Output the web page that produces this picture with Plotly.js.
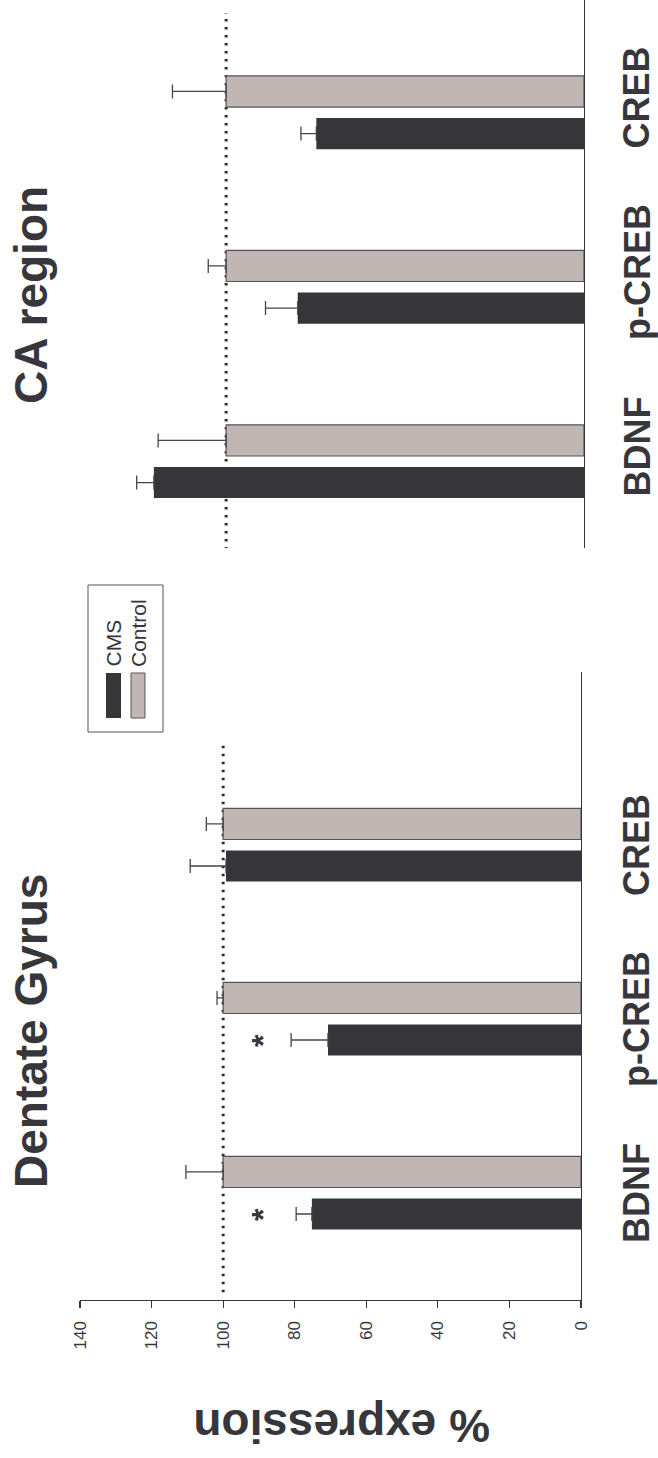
<!DOCTYPE html>
<html>
<head>
<meta charset="utf-8">
<script src="https://cdn.plot.ly/plotly-3.0.1.min.js"></script>
<style>html,body{margin:0;padding:0;background:#fff;}#chart{width:658px;height:1458px;}</style>
</head>
<body>
<div id="chart"></div>
<script>
// ---- data ----
const categories = ['BDNF', 'p-CREB', 'CREB'];
const seriesNames = ['CMS', 'Control'];
const panelTitles = ['Dentate Gyrus', 'CA region'];
const valueTicks = [0, 20, 40, 60, 80, 100, 120, 140];
const valueAxisTitle = '% expression';
const referenceLevel = 100;

const dgCMS = [75.2, 70.7, 99.2];
const dgCMSErr = [4.4, 10.3, 10.0];
const dgControl = [100, 100, 100];
const dgControlErr = [10.4, 1.7, 4.7];

const caCMS = [120.2, 80.0, 74.8];
const caCMSErr = [4.8, 9.0, 4.3];
const caControl = [100, 100, 100];
const caControlErr = [19.0, 5.0, 15.0];

const dgSignificant = ['BDNF', 'p-CREB'];
const sigMarkValue = 90;

// ---- styling helpers ----
const W = 658, H = 1458;
const px = v => v / W;
const py = v => 1 - v / H;
const DARK = '#36353a';
const LIGHT = '#c0b6b3';
const TXT = '#37363b';
const EDGE = '#56545a';
const FONT = 'Liberation Sans, Arial, Helvetica, sans-serif';

function errSpec(arr) {
  return {type: 'data', symmetric: false, array: arr, arrayminus: arr.map(() => 0),
          color: '#46454a', thickness: 1.3, width: 7};
}
function barTrace(name, vals, errs, color, edge, xa, ya) {
  return {
    type: 'bar', orientation: 'h', name: name, y: categories, x: vals,
    xaxis: xa, yaxis: ya, showlegend: false,
    marker: {color: color, line: {color: edge, width: edge ? 1.2 : 0}},
    error_x: errSpec(errs), hoverinfo: 'skip'
  };
}

const data = [
  barTrace(seriesNames[0], dgCMS, dgCMSErr, DARK, null, 'x', 'y'),
  barTrace(seriesNames[1], dgControl, dgControlErr, LIGHT, EDGE, 'x', 'y'),
  barTrace(seriesNames[0], caCMS, caCMSErr, DARK, null, 'x2', 'y2'),
  barTrace(seriesNames[1], caControl, caControlErr, LIGHT, EDGE, 'x2', 'y2')
];

const annotations = [];
// category labels
categories.forEach((c, i) => {
  annotations.push({xref: 'paper', yref: 'y', x: px(637), y: c, text: '<b>' + c + '</b>',
    textangle: -90, showarrow: false, xanchor: 'center', yanchor: 'middle',
    font: {family: FONT, size: 36, color: TXT}});
  annotations.push({xref: 'paper', yref: 'y2', x: px(637), y: c, yshift: 15, text: '<b>' + c + '</b>',
    textangle: -90, showarrow: false, xanchor: 'center', yanchor: 'middle',
    font: {family: FONT, size: 36, color: TXT}});
});
// panel titles
annotations.push({xref: 'paper', yref: 'paper', x: px(31), y: py(1031), text: '<b>' + panelTitles[0] + '</b>',
  textangle: -90, showarrow: false, xanchor: 'center', yanchor: 'middle',
  font: {family: FONT, size: 46, color: TXT}});
annotations.push({xref: 'paper', yref: 'paper', x: px(31), y: py(295), text: '<b>' + panelTitles[1] + '</b>',
  textangle: -90, showarrow: false, xanchor: 'center', yanchor: 'middle',
  font: {family: FONT, size: 46, color: TXT}});
// value axis title (upside down)
annotations.push({xref: 'paper', yref: 'paper', x: px(341), y: py(1426), text: '<b>' + valueAxisTitle + '</b>',
  textangle: 180, showarrow: false, xanchor: 'center', yanchor: 'middle',
  font: {family: FONT, size: 46, color: TXT}});
// significance marks
dgSignificant.forEach(c => {
  const idx = categories.indexOf(c);
  annotations.push({xref: 'x', yref: 'y', x: sigMarkValue, y: idx - 0.1208, text: '<b>*</b>',
    textangle: -90, showarrow: false, xanchor: 'center', yanchor: 'middle', xshift: 4,
    font: {family: FONT, size: 32, color: TXT}});
});
// legend texts
annotations.push({xref: 'paper', yref: 'paper', x: px(113), y: py(669), text: seriesNames[0],
  textangle: -90, showarrow: false, xanchor: 'center', yanchor: 'bottom',
  font: {family: FONT, size: 21, color: TXT}});
annotations.push({xref: 'paper', yref: 'paper', x: px(138), y: py(669), text: seriesNames[1],
  textangle: -90, showarrow: false, xanchor: 'center', yanchor: 'bottom',
  font: {family: FONT, size: 21, color: TXT}});

const shapes = [
  // reference dotted lines
  {type: 'line', xref: 'x', yref: 'y', x0: referenceLevel, x1: referenceLevel, y0: -0.57, y1: 2.575,
   line: {color: '#2e2d32', width: 3, dash: '2.5px,5.5px'}, layer: 'below'},
  {type: 'line', xref: 'x2', yref: 'y2', x0: referenceLevel, x1: referenceLevel, y0: -0.55, y1: 2.57,
   line: {color: '#2e2d32', width: 3, dash: '2.5px,5.5px'}, layer: 'below'},
  // legend box and swatches
  {type: 'rect', xref: 'paper', yref: 'paper', x0: px(88), x1: px(163), y0: py(732), y1: py(585),
   line: {color: '#55545a', width: 1}, fillcolor: 'rgba(0,0,0,0)'},
  {type: 'rect', xref: 'paper', yref: 'paper', x0: px(106), x1: px(121), y0: py(718), y1: py(673),
   line: {width: 0}, fillcolor: DARK},
  {type: 'rect', xref: 'paper', yref: 'paper', x0: px(131), x1: px(145), y0: py(718), y1: py(673),
   line: {color: EDGE, width: 1}, fillcolor: LIGHT}
];

const layout = {
  width: W, height: H,
  margin: {l: 0, r: 0, t: 0, b: 0},
  paper_bgcolor: '#ffffff', plot_bgcolor: 'rgba(0,0,0,0)',
  barmode: 'group', bargap: 0.517, bargroupgap: 0.26,
  showlegend: false,
  font: {family: FONT, color: TXT},
  xaxis: {domain: [px(80), px(581)], range: [140, 0], anchor: 'y',
    tickmode: 'array', tickvals: valueTicks, ticktext: valueTicks.map(String),
    ticks: 'outside', ticklen: 7, tickwidth: 1.2, tickcolor: TXT,
    showline: true, linecolor: TXT, linewidth: 1.3, tickangle: -90,
    ticklabelstandoff: 6,
    tickfont: {family: FONT, size: 17, color: TXT},
    showgrid: false, zeroline: false, fixedrange: true},
  yaxis: {domain: [py(1300), py(672)], range: [-0.615, 2.994], anchor: 'x', side: 'right',
    type: 'category', categoryorder: 'array', categoryarray: categories,
    showline: true, linecolor: TXT, linewidth: 1.3, ticks: '', showticklabels: false,
    showgrid: false, zeroline: false, fixedrange: true},
  xaxis2: {domain: [px(83), px(584)], range: [140, 0], anchor: 'y2', visible: false,
    showgrid: false, zeroline: false, fixedrange: true},
  yaxis2: {domain: [py(548), 1], range: [-0.496, 2.645], anchor: 'x2', side: 'right',
    type: 'category', categoryorder: 'array', categoryarray: categories,
    showline: true, linecolor: TXT, linewidth: 1.3, ticks: '', showticklabels: false,
    showgrid: false, zeroline: false, fixedrange: true},
  annotations: annotations,
  shapes: shapes
};

Plotly.newPlot('chart', data, layout, {displayModeBar: false, staticPlot: true});
</script>
</body>
</html>
